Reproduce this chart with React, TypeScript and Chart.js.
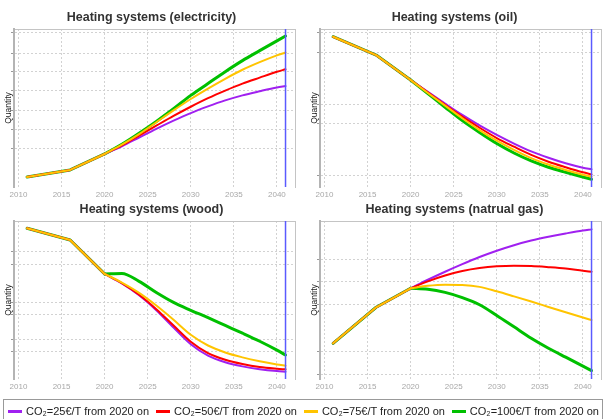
import React, { useEffect, useRef } from 'react';
import { Chart, registerables } from 'chart.js';

Chart.register(...registerables);

// ---------------- data ----------------
const YEARS = [2011, 2016, 2020, 2022, 2024, 2026, 2028, 2030, 2032, 2034, 2036, 2038, 2040, 2041];
const POLICY_START = 2020;
const X_TICKS = [2010, 2015, 2020, 2025, 2030, 2035, 2040];
const X_MIN = 2009.48;
const X_MAX = 2042.1;
const MARK_YEAR = 2041;
const Y_MIN = 0;
const Y_MAX = 100;

const SERIES_LABELS = [
  'CO\u2082=25\u20AC/T from 2020 on',
  'CO\u2082=50\u20AC/T from 2020 on',
  'CO\u2082=75\u20AC/T from 2020 on',
  'CO\u2082=100\u20AC/T from 2020 on',
];

const ELEC_25 = [6.3, 10.8, 20.9, 25.8, 31.3, 36.8, 42.0, 46.8, 51.0, 54.8, 58.0, 60.6, 63.0, 63.9];
const ELEC_50 = [6.3, 10.8, 20.9, 26.3, 32.5, 38.8, 45.0, 50.8, 56.2, 61.0, 65.4, 69.2, 72.9, 74.5];
const ELEC_75 = [6.3, 10.8, 20.9, 26.8, 33.5, 41.0, 48.5, 55.7, 62.3, 68.5, 74.2, 79.0, 83.3, 85.1];
const ELEC_100 = [6.3, 10.8, 20.9, 27.0, 34.0, 41.5, 49.5, 58.0, 65.5, 73.0, 80.0, 86.3, 92.5, 95.6];
const ELEC_GRID = [24.1, 36.7, 48.7, 60.8, 72.8, 84.8, 97.5];

const OIL_25 = [95.1, 83.5, 67.7, 60.2, 52.8, 45.6, 39.0, 33.0, 27.5, 22.5, 18.5, 15.0, 12.2, 11.2];
const OIL_50 = [95.1, 83.5, 67.7, 59.9, 52.0, 44.5, 37.5, 31.0, 25.5, 20.3, 16.0, 12.5, 9.3, 8.0];
const OIL_75 = [95.1, 83.5, 67.7, 59.5, 51.5, 43.5, 36.0, 29.3, 23.5, 18.3, 14.2, 10.8, 7.8, 6.5];
const OIL_100 = [95.1, 83.5, 67.7, 59.2, 50.5, 42.0, 34.5, 27.5, 21.5, 16.5, 12.5, 9.3, 6.3, 4.9];
const OIL_GRID = [7.0, 40.5, 51.9, 85.4, 97.5];

const WOOD_25 = [95.4, 88.0, 66.5, 60.5, 53.0, 43.5, 32.5, 22.0, 14.8, 10.6, 8.0, 6.2, 5.0, 4.6];
const WOOD_50 = [95.4, 88.0, 66.5, 60.6, 53.3, 44.2, 33.8, 23.6, 16.4, 12.2, 9.5, 7.6, 6.5, 6.1];
const WOOD_75 = [95.4, 88.0, 66.5, 61.0, 54.5, 46.5, 37.5, 28.0, 21.2, 16.8, 13.7, 11.2, 9.2, 8.4];
const WOOD_100 = [95.4, 88.0, 66.5, 66.8, 61.8, 54.8, 48.5, 43.5, 38.8, 33.9, 29.0, 23.9, 18.3, 15.2];
const WOOD_GRID = [17.1, 24.7, 41.1, 48.7, 72.6, 80.4];

const GAS_25 = [22.6, 45.4, 57.4, 62.8, 67.9, 72.7, 77.2, 81.2, 84.7, 87.6, 90.0, 92.1, 94.0, 94.7];
const GAS_50 = [22.6, 45.4, 57.4, 61.8, 65.5, 68.3, 70.2, 71.3, 71.7, 71.5, 70.8, 69.9, 68.5, 67.9];
const GAS_75 = [22.6, 45.4, 57.4, 59.0, 59.7, 59.5, 58.3, 55.5, 52.3, 49.0, 45.6, 42.2, 38.9, 37.3];
const GAS_100 = [22.6, 45.4, 57.4, 56.8, 54.8, 51.5, 47.0, 40.2, 33.0, 25.8, 19.5, 13.8, 8.2, 5.3];
const GAS_GRID = [3.0, 17.3, 47.0, 61.6, 75.8];

// ---------------- styles ----------------
const FONT = '"Liberation Sans", Arial, Helvetica, sans-serif';
const SERIES_COLORS = ['#A020F0', '#FF0000', '#FFC400', '#00C000'];
const SERIES_WIDTHS = [2, 2, 2, 3];
const SERIES_ORDER = [2, 1, 0, 3];
const MARK_COLOR = '#5A5AFF';
const GRID_COLOR = '#d2d2d2';
const FRAME_COLOR = '#c4c4c4';

const PANEL_W = 303;
const PANEL_H = 200;

type PanelSpec = {
  title: string;
  series: number[][];
  grid: number[];
  left: number;
  top: number;
  chartLeft: number;
  chartRight: number;
  quantityPad: number;
};

const PANELS: PanelSpec[] = [
  { title: 'Heating systems (electricity)', series: [ELEC_25, ELEC_50, ELEC_75, ELEC_100], grid: ELEC_GRID, left: 0, top: 0, chartLeft: 14, chartRight: 295, quantityPad: 4 },
  { title: 'Heating systems (oil)', series: [OIL_25, OIL_50, OIL_75, OIL_100], grid: OIL_GRID, left: 303, top: 0, chartLeft: 17, chartRight: 298, quantityPad: 7 },
  { title: 'Heating systems (wood)', series: [WOOD_25, WOOD_50, WOOD_75, WOOD_100], grid: WOOD_GRID, left: 0, top: 192, chartLeft: 14, chartRight: 295, quantityPad: 4 },
  { title: 'Heating systems (natrual gas)', series: [GAS_25, GAS_50, GAS_75, GAS_100], grid: GAS_GRID, left: 303, top: 192, chartLeft: 17, chartRight: 298, quantityPad: 7 },
];

function Panel({ spec }: { spec: PanelSpec }) {
  const ref = useRef<HTMLCanvasElement>(null);
  useEffect(() => {
    if (!ref.current) return;
    const lineStyle = (i: number) => ({
      borderColor: SERIES_COLORS[i],
      backgroundColor: SERIES_COLORS[i],
      borderWidth: SERIES_WIDTHS[i],
      pointRadius: 0,
      borderJoinStyle: 'round',
      borderCapStyle: 'round',
      order: SERIES_ORDER[i],
    });
    const history = spec.series.map((vals, i) => ({
      label: SERIES_LABELS[i] + ' (history)',
      data: YEARS.map((x, j) => ({ x, y: vals[j] })).filter((p) => p.x <= POLICY_START),
      tension: 0,
      ...lineStyle(i),
    }));
    const projection = spec.series.map((vals, i) => ({
      label: SERIES_LABELS[i],
      data: YEARS.map((x, j) => ({ x, y: vals[j] })).filter((p) => p.x >= POLICY_START),
      cubicInterpolationMode: 'monotone',
      ...lineStyle(i),
    }));
    const datasets: any[] = [
      {
        label: 'marker',
        data: [{ x: MARK_YEAR, y: Y_MIN }, { x: MARK_YEAR, y: Y_MAX }],
        borderColor: MARK_COLOR,
        borderWidth: 1.5,
        pointRadius: 0,
        order: -1,
      },
      ...projection,
      ...history,
    ];
    const chart = new Chart(ref.current, {
      type: 'line',
      data: { datasets },
      options: {
        responsive: false,
        animation: false,
        events: [],
        layout: { padding: 0 },
        plugins: {
          legend: { display: false },
          tooltip: { enabled: false },
          title: {
            display: true,
            text: spec.title,
            color: '#333',
            font: { family: FONT, size: 12.5, weight: 'bold' },
            padding: { top: 10, bottom: 4 },
          },
        },
        scales: {
          x: {
            type: 'linear',
            position: 'bottom',
            min: X_MIN,
            max: X_MAX,
            afterBuildTicks: (s: any) => { s.ticks = X_TICKS.map((v) => ({ value: v })); },
            afterFit: (s: any) => { s.height = 13; },
            ticks: {
              callback: (v: any) => String(v),
              color: '#a8a8a8',
              font: { family: FONT, size: 8 },
              padding: 2.5,
              maxRotation: 0,
              autoSkip: false,
            },
            grid: { color: GRID_COLOR, drawTicks: false, lineWidth: 1 },
            border: { display: false, dash: [2, 2] },
          },
          x2: {
            type: 'linear',
            position: 'top',
            min: 0,
            max: 1,
            afterFit: (s: any) => { s.height = 0; },
            ticks: { display: false },
            grid: { display: false, drawTicks: false },
            border: { display: true, color: FRAME_COLOR, width: 1 },
          },
          y: {
            type: 'linear',
            position: 'left',
            min: Y_MIN,
            max: Y_MAX,
            afterBuildTicks: (s: any) => { s.ticks = spec.grid.map((v) => ({ value: v })); },
            afterFit: (s: any) => { s.width = spec.chartLeft; },
            ticks: { display: false },
            grid: { color: GRID_COLOR, tickColor: '#999', tickLength: 3, drawTicks: true, lineWidth: 1 },
            border: { display: true, color: '#b4b4b4', width: 2, dash: [2, 2] },
            title: {
              display: true,
              text: 'Quantity',
              color: '#222',
              font: { family: FONT, size: 8.5 },
              padding: { top: spec.quantityPad, bottom: 0 },
            },
          },
          y2: {
            type: 'linear',
            position: 'right',
            min: 0,
            max: 1,
            afterFit: (s: any) => { s.width = PANEL_W - spec.chartRight; },
            ticks: { display: false },
            grid: { display: false, drawTicks: false },
            border: { display: true, color: FRAME_COLOR, width: 1 },
          },
        },
      } as any,
    });
    return () => chart.destroy();
  }, [spec]);
  return (
    <canvas
      ref={ref}
      width={PANEL_W}
      height={PANEL_H}
      style={{ position: 'absolute', left: spec.left, top: spec.top, width: PANEL_W, height: PANEL_H, display: 'block' }}
    />
  );
}

function Legend() {
  return (
    <div
      style={{
        position: 'absolute',
        left: 3,
        top: 399,
        width: 600,
        height: 30,
        boxSizing: 'border-box',
        border: '1px solid #999',
        display: 'flex',
        justifyContent: 'space-between',
        alignItems: 'flex-start',
        padding: '5px 3px 0 4px',
        fontFamily: FONT,
        fontSize: 11,
        lineHeight: '13px',
        color: '#222',
        whiteSpace: 'nowrap',
      }}
    >
      {SERIES_LABELS.map((label, i) => (
        <div key={label} style={{ display: 'flex', alignItems: 'center' }}>
          <span style={{ display: 'inline-block', width: 14, height: 3, background: SERIES_COLORS[i], marginRight: 4 }} />
          <span>{label}</span>
        </div>
      ))}
    </div>
  );
}

export default function App() {
  return (
    <div style={{ position: 'fixed', left: 0, top: 0, width: 606, height: 419, overflow: 'hidden', background: '#fff' }}>
      {PANELS.map((p) => (
        <Panel key={p.title} spec={p} />
      ))}
      <Legend />
    </div>
  );
}
